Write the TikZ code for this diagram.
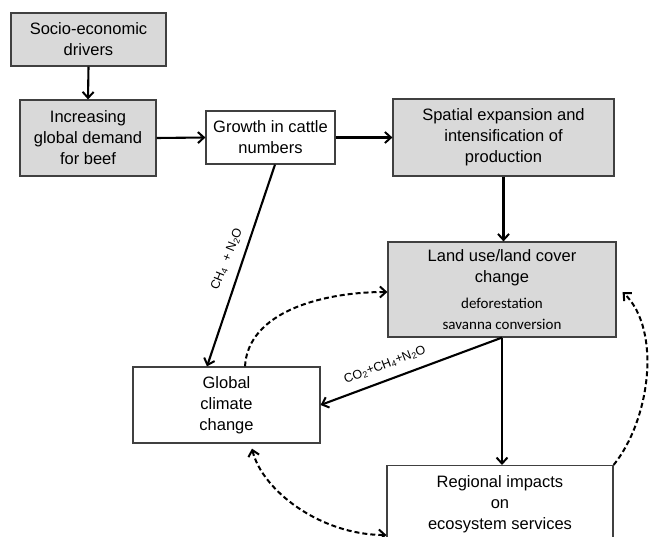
\documentclass[tikz,border=0pt]{standalone}
\usepackage{fontspec}
\setmainfont{Liberation Sans}
\newfontfamily\carl{Carlito}
\usetikzlibrary{arrows.meta,calc}
\definecolor{boxgray}{HTML}{D9D9D9}
\definecolor{edgegray}{HTML}{404040}
\begin{document}
\begin{tikzpicture}[x=1pt,y=-1pt,
  box/.style={draw=edgegray,line width=1.2pt,inner sep=0pt,align=center,
    font=\fontsize{16.5}{21}\selectfont},
  graybox/.style={box,fill=boxgray},
  flow/.style={line width=2.1pt,-{Straight Barb[length=6pt,width=11pt,line width=2pt]}},
  fb/.style={line width=2pt,dash pattern=on 5pt off 3pt,-{Straight Barb[length=6pt,width=11pt,line width=2pt]}},
  gas/.style={font=\fontsize{12.5}{14}\selectfont,inner sep=0pt}]
\useasboundingbox (0,0) rectangle (649,537);
\node[graybox,minimum width=155,minimum height=53] (socio) at (88.5,39.5) {Socio-economic\\drivers};
\node[graybox,minimum width=136,minimum height=76] (demand) at (88,138) {Increasing\\global demand\\for beef};
\node[box,fill=white,minimum width=129,minimum height=53] (growth) at (270.5,137.5) {Growth in cattle\\numbers};
\node[graybox,minimum width=221,minimum height=77] (spatial) at (503.5,137.5) {Spatial expansion and\\intensification of\\production};
\node[graybox,minimum width=228,minimum height=95] (land) at (502,289.5) {Land use/land cover\\change\\[5pt]{\carl\fontsize{15}{21}\selectfont deforestation}\\{\carl\fontsize{15}{21}\selectfont savanna conversion}};
\node[box,fill=white,minimum width=187,minimum height=76] (climate) at (226.5,405) {Global\\climate\\change};
\node[box,fill=white,minimum width=226,minimum height=78,anchor=north] (reg) at (500,465) {Regional impacts\\on\\ecosystem services};
% solid flows
\draw[flow] (socio.south) -- (demand.north);
\draw[flow] (demand.east) -- (growth.west);
\draw[flow] (growth.east) -- (spatial.west);
\draw[flow] (spatial.south) -- (spatial.south |- land.north);
\draw[flow] ($(growth.south)+(4.5,0)$) -- ($(climate.north)+(-19.5,0)$);
\draw[flow] (land.south) -- (climate.east);
\draw[flow] (land.south) -- (land.south |- reg.north);
% gas labels
\node[gas,rotate=68] (lab1) at (227,259) {CH\textsubscript{4}\ \ + N\textsubscript{2}O};
\node[gas,rotate=21] (lab2) at (385,365) {CO\textsubscript{2}+CH\textsubscript{4}+N\textsubscript{2}O};
% feedback loops
\draw[fb] ($(climate.north)+(18.5,0)$) .. controls (248,312) and (322,292) .. (land.west |- 0,292);
\draw[fb] (reg.north east) .. controls (650,420) and (662,330) .. ($(land.east)+(6,2.5)$);
\draw[fb,{Straight Barb[length=6pt,width=11pt,line width=2pt]}-{Straight Barb[length=6pt,width=11pt,line width=2pt]}] ($(climate.south)+(25.5,5)$) .. controls (262,490) and (320,535) .. (reg.west |- 0,535);
\end{tikzpicture}
\end{document}
